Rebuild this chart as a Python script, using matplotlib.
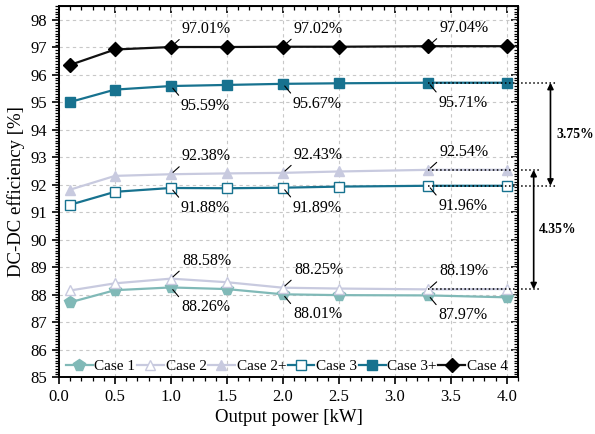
import matplotlib
matplotlib.use("Agg")
import matplotlib.pyplot as plt
from matplotlib.ticker import MultipleLocator

plt.rcParams['font.family'] = ['Liberation Serif', 'DejaVu Serif']
plt.rcParams['mathtext.fontset'] = 'stix'

x = [0.1, 0.5, 1.0, 1.5, 2.0, 2.5, 3.3, 4.0]
case1 = [87.72, 88.16, 88.26, 88.20, 88.01, 87.98, 87.97, 87.90]
case2 = [88.15, 88.41, 88.58, 88.45, 88.25, 88.22, 88.19, 88.20]
case2p = [91.82, 92.32, 92.38, 92.41, 92.43, 92.48, 92.54, 92.54]
case3 = [91.27, 91.74, 91.88, 91.87, 91.89, 91.93, 91.96, 91.96]
case3p = [95.01, 95.46, 95.59, 95.63, 95.67, 95.69, 95.71, 95.71]
case4 = [96.36, 96.92, 97.01, 97.01, 97.02, 97.02, 97.04, 97.04]

labels = ["Case 1", "Case 2", "Case 2+", "Case 3", "Case 3+", "Case 4"]

fig = plt.figure(figsize=(5.95, 4.34), dpi=100)
ax = fig.add_axes([0.0992, 0.1313, 0.7714, 0.8547])

c1 = '#80b9b7'
c2 = '#c8cadf'
c3 = '#17728f'

ax.plot(x, case1, '-p', color=c1, lw=1.6, ms=8.5, mfc=c1, mec=c1, label=labels[0], zorder=3)
ax.plot(x, case2, '-^', color=c2, lw=1.6, ms=7.5, mfc='white', mec=c2, label=labels[1], zorder=3)
ax.plot(x, case2p, '-^', color=c2, lw=1.6, ms=7.5, mfc=c2, mec=c2, label=labels[2], zorder=3)
ax.plot(x, case3, '-s', color=c3, lw=1.6, ms=6.5, mfc='white', mec=c3, label=labels[3], zorder=3)
ax.plot(x, case3p, '-s', color=c3, lw=1.6, ms=6.5, mfc=c3, mec=c3, label=labels[4], zorder=3)
ax.plot(x, case4, '-D', color='#111111', lw=1.6, ms=7, mfc='black', mec='black', label=labels[5], zorder=3)

ax.set_xlim(0, 4.1)
ax.set_ylim(85, 98.5)
ax.xaxis.set_major_locator(MultipleLocator(0.5))
ax.xaxis.set_minor_locator(MultipleLocator(0.1))
ax.yaxis.set_major_locator(MultipleLocator(1))
ax.yaxis.set_minor_locator(MultipleLocator(0.1))
ax.xaxis.set_major_formatter(matplotlib.ticker.FormatStrFormatter('%.1f'))
ax.tick_params(which='major', direction='out', length=5, width=1.2, labelsize=12)
ax.tick_params(which='minor', direction='out', length=3, width=0.9)
ax.grid(True, which='major', linestyle=(0, (3, 3)), color='#c8c8c8', lw=0.8)
for s in ax.spines.values():
    s.set_linewidth(1.4)

# top / right inward ticks
sx = ax.secondary_xaxis('top')
sx.xaxis.set_major_locator(MultipleLocator(0.5))
sx.xaxis.set_minor_locator(MultipleLocator(0.1))
sx.tick_params(which='major', direction='in', length=5, width=1.2, labeltop=False)
sx.tick_params(which='minor', direction='in', length=3, width=0.9)
sy = ax.secondary_yaxis('right')
sy.yaxis.set_major_locator(MultipleLocator(1))
sy.yaxis.set_minor_locator(MultipleLocator(0.1))
sy.tick_params(which='major', direction='in', length=5, width=1.2, labelright=False)
sy.tick_params(which='minor', direction='in', length=3, width=0.9)

ax.set_xlabel("Output power [kW]", fontsize=13.5, labelpad=3)
ax.set_ylabel("DC-DC efficiency [%]", fontsize=13.5, labelpad=4)

# annotations
ann_idx = [2, 4, 6]
def annotate(series, above):
    for i in ann_idx:
        xv, yv = x[i], series[i]
        if above:
            ax.annotate(f"{yv:.2f}%", xy=(xv, yv), xytext=(11, 10), textcoords='offset pixels',
                        ha='left', va='bottom', fontsize=11.5,
                        arrowprops=dict(arrowstyle='-', color='black', lw=0.8, shrinkA=0, shrinkB=2,
                                        relpos=(0, 0)), zorder=5)
        else:
            ax.annotate(f"{yv:.2f}%", xy=(xv, yv), xytext=(10, -12), textcoords='offset pixels',
                        ha='left', va='top', fontsize=11.5,
                        arrowprops=dict(arrowstyle='-', color='black', lw=0.8, shrinkA=0, shrinkB=2,
                                        relpos=(0, 1)), zorder=5)

annotate(case4, True)
annotate(case3p, False)
annotate(case2p, True)
annotate(case3, False)
annotate(case2, True)
annotate(case1, False)

# reference lines and arrows
i_ref = 6
ax.plot([x[i_ref], 4.44], [case3p[i_ref]] * 2, ':', color='black', lw=1.1, clip_on=False, zorder=4)
ax.plot([x[i_ref], 4.44], [case3[i_ref]] * 2, ':', color='black', lw=1.1, clip_on=False, zorder=4)
ax.plot([x[i_ref], 4.29], [case2p[i_ref]] * 2, ':', color='black', lw=1.1, clip_on=False, zorder=4)
ax.plot([x[i_ref], 4.29], [case2[i_ref]] * 2, ':', color='black', lw=1.1, clip_on=False, zorder=4)

ax.annotate('', xy=(4.39, case3[i_ref]), xytext=(4.39, case3p[i_ref]), annotation_clip=False,
            arrowprops=dict(arrowstyle='<|-|>', color='black', lw=1.2, shrinkA=0, shrinkB=0,
                            mutation_scale=9))
ax.annotate('', xy=(4.24, case2[i_ref]), xytext=(4.24, case2p[i_ref]), annotation_clip=False,
            arrowprops=dict(arrowstyle='<|-|>', color='black', lw=1.2, shrinkA=0, shrinkB=0,
                            mutation_scale=9))
ax.text(4.445, (case3p[i_ref] + case3[i_ref]) / 2, f"{case3p[i_ref] - case3[i_ref]:.2f}%",
        fontsize=9.8, fontweight='bold', ha='left', va='center', clip_on=False)
ax.text(4.29, (case2p[i_ref] + case2[i_ref]) / 2, f"{case2p[i_ref] - case2[i_ref]:.2f}%",
        fontsize=9.8, fontweight='bold', ha='left', va='center', clip_on=False)

ax.legend(loc='lower left', bbox_to_anchor=(-0.005, -0.015), ncol=6, frameon=False, fontsize=11,
          handlelength=1.75, handletextpad=0.12, columnspacing=0.1, borderaxespad=0.2)

fig.savefig("out.png", dpi=100)
